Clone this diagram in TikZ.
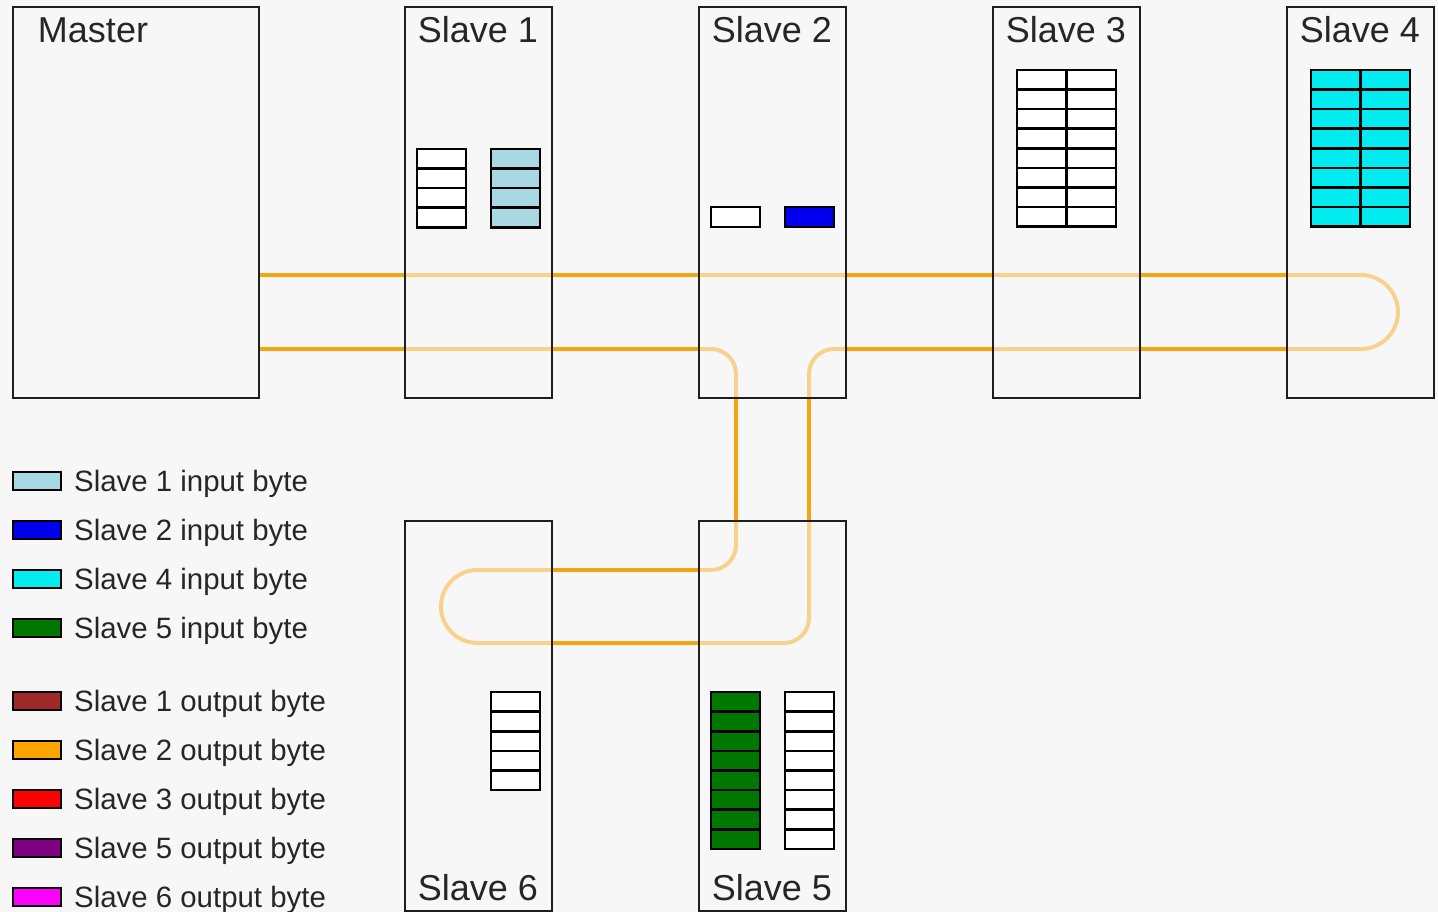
\documentclass[tikz,border=0pt]{standalone}
\usepackage{fontspec}
\setmainfont{Liberation Sans}
\definecolor{bg}{RGB}{247,247,247}
\definecolor{boxline}{RGB}{30,30,30}
\definecolor{textc}{RGB}{38,38,38}
\definecolor{busc}{RGB}{242,166,20}
\definecolor{busl}{RGB}{247,210,140}
\definecolor{lb}{RGB}{168,216,226}
\definecolor{bl}{RGB}{0,0,238}
\definecolor{cy}{RGB}{0,236,240}
\definecolor{gr}{RGB}{0,120,0}
\definecolor{br}{RGB}{160,40,40}
\definecolor{orng}{RGB}{255,165,0}
\definecolor{rd}{RGB}{255,0,0}
\definecolor{pu}{RGB}{128,0,128}
\definecolor{mg}{RGB}{255,0,255}
\newcommand\regcells[5]{%
  \foreach \i in {1,...,#4}
    \draw[cell, fill=#5] (#1,{#2+(\i-1)*19.6}) rectangle ++(#3,19.6);
}
\begin{document}
\begin{tikzpicture}[x=1pt,y=-1pt,
  box/.style={draw=boxline, line width=2.2pt, fill=bg, anchor=north west, inner sep=0pt, outer sep=0pt},
  title/.style={font=\fontsize{36}{40}\selectfont, text=textc, inner sep=0pt, anchor=base},
  legtext/.style={font=\fontsize{29.4}{32}\selectfont, text=textc, inner sep=0pt, anchor=base west},
  swatch/.style={draw=black, line width=2.6pt, minimum width=48pt, minimum height=18pt, inner sep=0pt, outer sep=0pt, anchor=west},
  bus/.style={line width=4pt, color=busc},
  busfaint/.style={line width=4pt, color=busl},
  cell/.style={draw=black, line width=2.6pt},
  outline/.style={draw=boxline, line width=2.2pt}]
\fill[bg] (0,0) rectangle (1438,912);
\useasboundingbox (0,0) rectangle (1438,912);

% boxes
\node[box, minimum width=246pt, minimum height=391pt] (master) at (13,7) {};
\node[box, minimum width=147pt, minimum height=391pt] (s1) at (405,7) {};
\node[box, minimum width=147pt, minimum height=391pt] (s2) at (699,7) {};
\node[box, minimum width=147pt, minimum height=391pt] (s3) at (993,7) {};
\node[box, minimum width=147pt, minimum height=391pt] (s4) at (1287,7) {};
\node[box, minimum width=147pt, minimum height=390pt] (s6) at (405,521) {};
\node[box, minimum width=147pt, minimum height=390pt] (s5) at (699,521) {};

% bus coordinates
\coordinate (mt) at (259,275);
\coordinate (mb) at (259,349);
\coordinate (vl) at (736,450);
\coordinate (vr) at (809,450);
\coordinate (lt) at (600,570);
\coordinate (lo) at (600,643);

% faint ring (inside the boxes)
\draw[busfaint] (mt) [rounded corners=37pt] -- (1398,275) -- (1398,349) -- (1100,349)
  [rounded corners=25pt] -- (809,349) -- (809,643) -- (700,643)
  [rounded corners=36.5pt] -- (441,643) -- (441,570) -- (600,570)
  [rounded corners=25pt] -- (736,570) -- (736,349) -- (mb);

% solid segments between boxes
\draw[bus] (mt) -- (s1.west |- mt);
\draw[bus] (s1.east |- mt) -- (s2.west |- mt);
\draw[bus] (s2.east |- mt) -- (s3.west |- mt);
\draw[bus] (s3.east |- mt) -- (s4.west |- mt);
\draw[bus] (mb) -- (s1.west |- mb);
\draw[bus] (s1.east |- mb) -- (s2.west |- mb);
\draw[bus] (s2.east |- mb) -- (s3.west |- mb);
\draw[bus] (s3.east |- mb) -- (s4.west |- mb);
\draw[bus] (vl |- s2.south) -- (vl |- s5.north);
\draw[bus] (vr |- s2.south) -- (vr |- s5.north);
\draw[bus] (s6.east |- lt) -- (s5.west |- lt);
\draw[bus] (s6.east |- lo) -- (s5.west |- lo);

% box outlines on top
\foreach \n in {master,s1,s2,s3,s4,s5,s6}
  \draw[outline] (\n.north west) rectangle (\n.south east);

% titles
\node[title] (tmaster) at (93,43) {Master};
\node[title] (ts1) at (478,43) {Slave 1};
\node[title] (ts2) at (772,43) {Slave 2};
\node[title] (ts3) at (1066,43) {Slave 3};
\node[title] (ts4) at (1360,43) {Slave 4};
\node[title] (ts6) at (478,900) {Slave 6};
\node[title] (ts5) at (772,900) {Slave 5};

% registers
\regcells{417}{149}{49}{4}{white}
\regcells{491}{149}{49}{4}{lb}
\draw[cell, fill=white] (711,207) rectangle (760,227);
\draw[cell, fill=bl] (785,207) rectangle (834,227);
\regcells{1017}{70}{49.5}{8}{white}
\regcells{1066.5}{70}{49.5}{8}{white}
\regcells{1311}{70}{49.5}{8}{cy}
\regcells{1360.5}{70}{49.5}{8}{cy}
\regcells{491}{692}{49}{5}{white}
\regcells{711}{692}{49}{8}{gr}
\regcells{785}{692}{49}{8}{white}

% legend
\node[swatch, fill=lb] (l1) at (13,481) {};
\node[legtext] (t1) at (74,491) {Slave 1 input byte};
\node[swatch, fill=bl] (l2) at (13,530) {};
\node[legtext] (t2) at (74,540) {Slave 2 input byte};
\node[swatch, fill=cy] (l3) at (13,579) {};
\node[legtext] (t3) at (74,589) {Slave 4 input byte};
\node[swatch, fill=gr] (l4) at (13,628) {};
\node[legtext] (t4) at (74,638) {Slave 5 input byte};
\node[swatch, fill=br] (l5) at (13,701) {};
\node[legtext] (t5) at (74,711) {Slave 1 output byte};
\node[swatch, fill=orng] (l6) at (13,750) {};
\node[legtext] (t6) at (74,760) {Slave 2 output byte};
\node[swatch, fill=rd] (l7) at (13,799) {};
\node[legtext] (t7) at (74,809) {Slave 3 output byte};
\node[swatch, fill=pu] (l8) at (13,848) {};
\node[legtext] (t8) at (74,858) {Slave 5 output byte};
\node[swatch, fill=mg] (l9) at (13,897) {};
\node[legtext] (t9) at (74,907) {Slave 6 output byte};
\end{tikzpicture}
\end{document}
